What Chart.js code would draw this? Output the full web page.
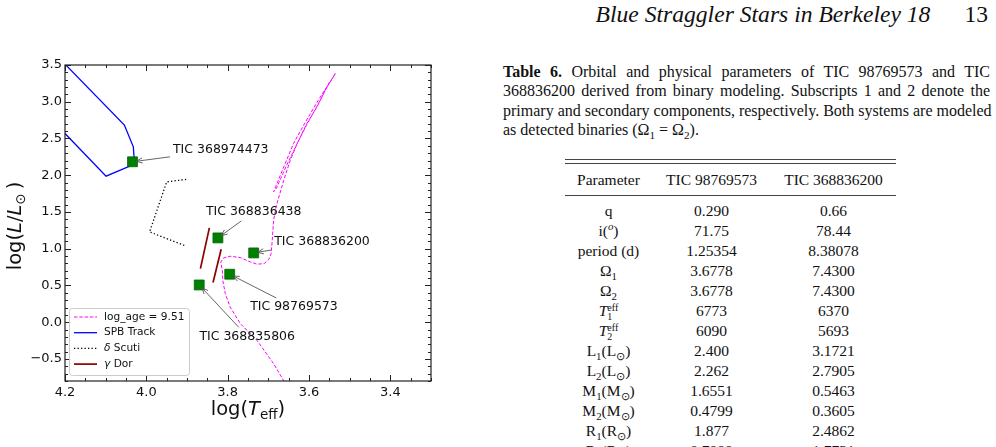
<!DOCTYPE html>
<html>
<head>
<meta charset="utf-8">
<script src="https://cdn.jsdelivr.net/npm/chart.js@4.4.1/dist/chart.umd.min.js"></script>
<style>
  html, body { margin: 0; padding: 0; background: #fff; }
  body { width: 996px; height: 447px; position: relative; overflow: hidden;
         font-family: 'Liberation Serif', 'Times New Roman', serif; color: #111; }
  #chartBox { position: absolute; left: 0; top: 0; width: 480px; height: 447px; }
  #runhead { position: absolute; right: 8px; top: -1px; font-size: 23.6px; line-height: 30px; white-space: nowrap; }
  #caption { position: absolute; left: 503px; top: 62px; width: 487px; font-size: 16px; line-height: 19.3px; }
  #caption .ln { display: block; text-align: justify; text-align-last: justify; white-space: nowrap; }
  #caption .ln.last { text-align: left; text-align-last: left; }
  sub, sup { font-size: 0.7em; line-height: 0; }
  #tbl { position: absolute; left: 565px; top: 159px; width: 331px; }
  .rule { height: 1px; background: #444; }
  table { border-collapse: collapse; width: 331px; font-size: 15.5px; }
  th { font-weight: normal; height: 31px; padding: 0; border-bottom: 1px solid #444; }
  td { height: 20px; line-height: 20px; padding: 0; text-align: center; white-space: nowrap; }
  tr.first td { padding-top: 5px; }
  .stk { display: inline-block; vertical-align: -4px; font-size: 10px; line-height: 9px; text-align: left; }
  .stk span { display: block; }
</style>
</head>
<body>
<div id="chartBox"><canvas id="hrChart" width="480" height="447"></canvas></div>

<div id="runhead"><i>Blue Straggler Stars in Berkeley 18</i><span style="margin-left:34px">13</span></div>

<div id="caption">
  <span class="ln"><b>Table 6.</b> Orbital and physical parameters of TIC 98769573 and TIC</span>
  <span class="ln">368836200 derived from binary modeling. Subscripts 1 and 2 denote the</span>
  <span class="ln">primary and secondary components, respectively. Both systems are modeled</span>
  <span class="ln last">as detected binaries (Ω<sub>1</sub> = Ω<sub>2</sub>).</span>
</div>

<div id="tbl">
  <div class="rule"></div>
  <div class="rule" style="margin-top:3px"></div>
  <table>
    <colgroup><col style="width:87px"><col style="width:119px"><col style="width:125px"></colgroup>
    <thead><tr><th>Parameter</th><th>TIC 98769573</th><th>TIC 368836200</th></tr></thead>
    <tbody>
      <tr class="first"><td>q</td><td>0.290</td><td>0.66</td></tr>
      <tr><td>i(<sup><i>o</i></sup>)</td><td>71.75</td><td>78.44</td></tr>
      <tr><td>period (d)</td><td>1.25354</td><td>8.38078</td></tr>
      <tr><td>Ω<sub>1</sub></td><td>3.6778</td><td>7.4300</td></tr>
      <tr><td>Ω<sub>2</sub></td><td>3.6778</td><td>7.4300</td></tr>
      <tr><td><i>T</i><span class="stk"><span>eff</span><span>1</span></span></td><td>6773</td><td>6370</td></tr>
      <tr><td><i>T</i><span class="stk"><span>eff</span><span>2</span></span></td><td>6090</td><td>5693</td></tr>
      <tr><td>L<sub>1</sub>(L<sub>⊙</sub>)</td><td>2.400</td><td>3.1721</td></tr>
      <tr><td>L<sub>2</sub>(L<sub>⊙</sub>)</td><td>2.262</td><td>2.7905</td></tr>
      <tr><td>M<sub>1</sub>(M<sub>⊙</sub>)</td><td>1.6551</td><td>0.5463</td></tr>
      <tr><td>M<sub>2</sub>(M<sub>⊙</sub>)</td><td>0.4799</td><td>0.3605</td></tr>
      <tr><td>R<sub>1</sub>(R<sub>⊙</sub>)</td><td>1.877</td><td>2.4862</td></tr>
      <tr><td>R<sub>2</sub>(R<sub>⊙</sub>)</td><td>0.7888</td><td>1.7731</td></tr>
    </tbody>
  </table>
</div>

<script>
// --- data (log Teff, log L/Lsun) ---
const xTicks = [4.2, 4.0, 3.8, 3.6, 3.4];
const yTicks = [3.5, 3.0, 2.5, 2.0, 1.5, 1.0, 0.5, 0.0, -0.5];

const starNames = ['TIC 368974473', 'TIC 368836438', 'TIC 368836200', 'TIC 98769573', 'TIC 368835806'];
const starTeff = [4.034, 3.824, 3.736, 3.795, 3.870];
const starLum = [2.183, 1.147, 0.943, 0.653, 0.507];
// where the name labels sit (text centre)
const labelTeff = [3.817, 3.736, 3.568, 3.637, 3.752];
const labelLum = [2.342, 1.501, 1.093, 0.207, -0.192];

// isochrone log_age = 9.51 (MS, hook, RGB, then back down / up again)
const isoTeff = [3.641, 3.687, 3.728, 3.769, 3.794, 3.806, 3.812, 3.813, 3.817, 3.811, 3.794, 3.769, 3.744,
  3.728, 3.710, 3.699, 3.693, 3.691, 3.687, 3.680, 3.662, 3.646, 3.629, 3.605, 3.580, 3.560, 3.535,
  3.542, 3.577, 3.613, 3.638, 3.662, 3.687,
  3.680, 3.656, 3.631, 3.606, 3.572, 3.547];
const isoLum = [-0.996, -0.564, -0.247, -0.019, 0.207, 0.390, 0.571, 0.707, 0.816, 0.871, 0.898, 0.880, 0.820,
  0.789, 0.798, 0.853, 0.935, 1.071, 1.388, 1.593, 1.933, 2.206, 2.433, 2.706, 2.932, 3.159, 3.387,
  3.323, 3.023, 2.683, 2.433, 2.114, 1.774,
  1.824, 2.124, 2.410, 2.683, 3.023, 3.296];

const spbTeff = [4.22, 4.054, 4.032, 4.029, 4.099, 4.23];
const spbLum = [3.625, 2.683, 2.387, 2.151, 1.988, 2.74];

const dscTeff = [3.902, 3.950, 3.992, 3.902];
const dscLum = [1.943, 1.910, 1.229, 1.034];

const gdTeffA = [3.845, 3.867];
const gdLumA = [1.283, 0.730];
const gdTeffB = [3.816, 3.836];
const gdLumB = [0.993, 0.540];

const pts = (xs, ys) => xs.map((v, i) => ({ x: v, y: ys[i] }));

// datasets that get a legend row, in legend order
const legendOrder = [1, 2, 3, 4];

const FONT = '"DejaVu Sans", sans-serif';

function drawRuns(ctx, runs, cx, cy) {
  let total = 0;
  runs.forEach(r => { ctx.font = r.font; r.w = ctx.measureText(r.t).width; total += r.w + (r.gap || 0); });
  let xx = cx - total / 2;
  ctx.textAlign = 'left';
  ctx.textBaseline = 'alphabetic';
  runs.forEach(r => {
    ctx.font = r.font;
    ctx.fillText(r.t, xx, cy + (r.dy || 0));
    xx += r.w + (r.gap || 0);
  });
}

const hrFrame = {
  id: 'hrFrame',
  afterDatasetsDraw(chart) {
    const { ctx, chartArea: a, scales: { x, y } } = chart;
    ctx.save();

    // inward ticks on all four sides
    ctx.strokeStyle = '#222';
    ctx.lineWidth = 1;
    ctx.beginPath();
    for (let k = 66; k <= 84; k++) {
      const v = k * 0.05;
      const px = Math.round(x.getPixelForValue(v)) + 0.5;
      const len = (k % 4 === 0) ? 6 : 3;
      ctx.moveTo(px, a.bottom); ctx.lineTo(px, a.bottom - len);
      ctx.moveTo(px, a.top); ctx.lineTo(px, a.top + len);
    }
    for (let k = -8; k <= 35; k++) {
      const py = Math.round(y.getPixelForValue(k / 10)) + 0.5;
      const len = (k % 5 === 0) ? 6 : 3;
      ctx.moveTo(a.left, py); ctx.lineTo(a.left + len, py);
      ctx.moveTo(a.right, py); ctx.lineTo(a.right - len, py);
    }
    ctx.stroke();
    ctx.lineWidth = 1.2;
    ctx.strokeRect(a.left, a.top, a.right - a.left, a.bottom - a.top);

    // star name labels with arrows
    ctx.font = '12.5px ' + FONT;
    starNames.forEach((name, i) => {
      const mx = x.getPixelForValue(starTeff[i]), my = y.getPixelForValue(starLum[i]);
      const tx = x.getPixelForValue(labelTeff[i]), ty = y.getPixelForValue(labelLum[i]);
      const w = ctx.measureText(name).width;
      ctx.fillStyle = '#111';
      ctx.textAlign = 'center';
      ctx.textBaseline = 'middle';
      ctx.fillText(name, tx, ty);

      const hw = w / 2 + 3, hh = 6 + 3;
      const dx = mx - tx, dy = my - ty;
      const t = Math.min(hw / Math.abs(dx || 1e-9), hh / Math.abs(dy || 1e-9));
      const sx = tx + dx * t, sy = ty + dy * t;
      const d = Math.hypot(mx - sx, my - sy);
      const ux = (mx - sx) / d, uy = (my - sy) / d;
      const ex = mx - ux * 4, ey = my - uy * 4;
      ctx.strokeStyle = '#555';
      ctx.lineWidth = 0.9;
      ctx.beginPath();
      ctx.moveTo(sx, sy); ctx.lineTo(ex, ey);
      const hl = 6, hwid = 2.6;
      ctx.moveTo(ex - ux * hl - uy * hwid, ey - uy * hl + ux * hwid);
      ctx.lineTo(ex, ey);
      ctx.lineTo(ex - ux * hl + uy * hwid, ey - uy * hl - ux * hwid);
      ctx.stroke();
    });

    // legend, lower left inside the axes
    const lx = a.left + 4, lw = 120, lh = 67, ly = a.bottom - 6 - lh;
    ctx.fillStyle = 'rgba(255,255,255,0.85)';
    ctx.strokeStyle = '#cccccc';
    ctx.lineWidth = 1;
    ctx.beginPath();
    ctx.roundRect(lx + 0.5, ly + 0.5, lw, lh, 3);
    ctx.fill();
    ctx.stroke();
    legendOrder.forEach((di, row) => {
      const ds = chart.data.datasets[di];
      const ry = ly + 9 + row * 15.7;
      ctx.strokeStyle = ds.borderColor;
      ctx.lineWidth = ds.borderWidth;
      ctx.setLineDash(ds.borderDash || []);
      ctx.beginPath();
      ctx.moveTo(lx + 5, ry); ctx.lineTo(lx + 28, ry);
      ctx.stroke();
      ctx.setLineDash([]);
      ctx.fillStyle = '#111';
      ctx.textAlign = 'left';
      ctx.textBaseline = 'middle';
      const label = ds.label;
      if (/^[\u0370-\u03ff] /.test(label)) {
        ctx.font = 'italic 10.6px ' + FONT;
        ctx.fillText(label[0], lx + 35, ry);
        const gw = ctx.measureText(label[0]).width;
        ctx.font = '10.6px ' + FONT;
        ctx.fillText(label.slice(1), lx + 35 + gw, ry);
      } else {
        ctx.font = '10.6px ' + FONT;
        ctx.fillText(label, lx + 35, ry);
      }
    });

    // axis titles (mathtext style)
    ctx.fillStyle = '#111';
    const big = '19.5px ' + FONT, bigI = 'italic 19.5px ' + FONT, small = '13.5px ' + FONT;
    drawRuns(ctx, [
      { t: 'log(', font: big }, { t: 'T', font: bigI }, { t: 'eff', font: small, dy: 4 }, { t: ')', font: big }
    ], (a.left + a.right) / 2, 415);
    ctx.save();
    ctx.translate(21, (a.top + a.bottom) / 2 + 3);
    ctx.rotate(-Math.PI / 2);
    drawRuns(ctx, [
      { t: 'log(', font: big }, { t: 'L', font: bigI }, { t: '/', font: big }, { t: 'L', font: bigI },
      { t: '\u2299', font: small, dy: 4, gap: 4 }, { t: ')', font: big }
    ], 0, 0);
    ctx.restore();

    ctx.restore();
  }
};

new Chart(document.getElementById('hrChart'), {
  type: 'scatter',
  data: {
    datasets: [
      {
        label: 'Stars',
        data: pts(starTeff, starLum),
        pointStyle: 'rect',
        pointRadius: 7,
        backgroundColor: '#008000',
        borderColor: '#006400',
        borderWidth: 0.8,
        showLine: false
      },
      {
        label: 'log_age = 9.51',
        data: pts(isoTeff, isoLum),
        showLine: true,
        borderColor: '#ff00ff',
        borderWidth: 1,
        borderDash: [3.5, 1.8],
        pointRadius: 0,
        tension: 0
      },
      {
        label: 'SPB Track',
        data: pts(spbTeff, spbLum),
        showLine: true,
        borderColor: '#0000ff',
        borderWidth: 1.3,
        pointRadius: 0
      },
      {
        label: 'δ Scuti',
        data: pts(dscTeff, dscLum),
        showLine: true,
        borderColor: '#000000',
        borderWidth: 1.3,
        borderDash: [1.3, 2.2],
        pointRadius: 0
      },
      {
        label: 'γ Dor',
        data: pts(gdTeffA, gdLumA),
        showLine: true,
        borderColor: '#8b0000',
        borderWidth: 1.7,
        pointRadius: 0
      },
      {
        label: 'γ Dor (2)',
        data: pts(gdTeffB, gdLumB),
        showLine: true,
        borderColor: '#8b0000',
        borderWidth: 1.7,
        pointRadius: 0
      }
    ]
  },
  options: {
    responsive: false,
    animation: false,
    layout: { padding: { top: 65, right: 49, bottom: 0, left: 0 } },
    plugins: { legend: { display: false }, tooltip: { enabled: false } },
    scales: {
      x: {
        type: 'linear',
        reverse: true,
        min: 3.3,
        max: 4.2,
        grid: { display: false, drawTicks: false },
        border: { display: false },
        afterBuildTicks: s => { s.ticks = xTicks.map(v => ({ value: v })); },
        afterFit: s => { s.height = 66; },
        ticks: {
          autoSkip: false,
          maxRotation: 0,
          padding: 4,
          color: '#111',
          font: { family: 'DejaVu Sans', size: 13 },
          callback: v => v.toFixed(1)
        }
      },
      y: {
        type: 'linear',
        min: -0.8,
        max: 3.5,
        grid: { display: false, drawTicks: false },
        border: { display: false },
        afterBuildTicks: s => { s.ticks = yTicks.map(v => ({ value: v })); },
        afterFit: s => { s.width = 65; },
        ticks: {
          autoSkip: false,
          padding: 3,
          color: '#111',
          font: { family: 'DejaVu Sans', size: 13 },
          callback: v => v.toFixed(1).replace('-', '\u2212')
        }
      }
    }
  },
  plugins: [hrFrame]
});
</script>
</body>
</html>
